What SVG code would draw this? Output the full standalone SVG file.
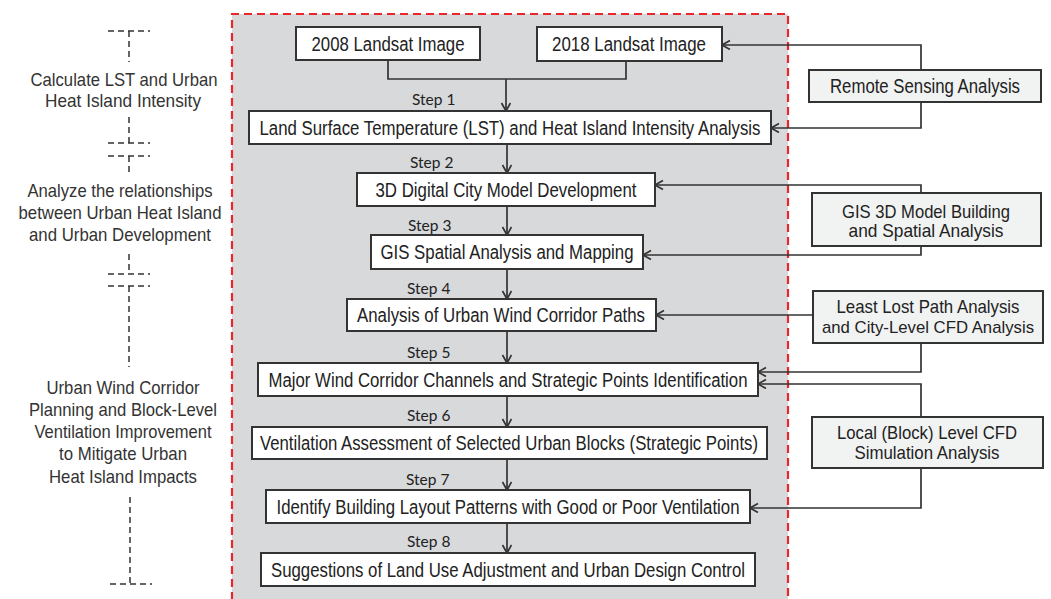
<svg xmlns="http://www.w3.org/2000/svg" width="1051" height="599" viewBox="0 0 1051 599">
<defs>
<style>
.box{fill:#fff;stroke:#333;stroke-width:2}
.rbox{fill:#f1f2f2;stroke:#333;stroke-width:2}
.t{font-family:"Liberation Sans",Arial,sans-serif;font-size:19.5px;fill:#222;text-anchor:middle}
.t2{font-family:"Liberation Sans",Arial,sans-serif;font-size:18.5px;fill:#222;text-anchor:middle}
.lt{font-family:"Liberation Sans",Arial,sans-serif;font-size:18.5px;fill:#333;text-anchor:middle}
.step{font-family:Lato,"Open Sans",sans-serif;font-size:15.5px;fill:#222}
.c{fill:none;stroke:#333;stroke-width:1.7}
.d{fill:none;stroke:#333;stroke-width:1.5;stroke-dasharray:6 4}
</style>
<marker id="ah" markerUnits="userSpaceOnUse" markerWidth="12" markerHeight="12" refX="9" refY="5" orient="auto">
<path d="M1,0.5 L9,5 L1,9.5" fill="none" stroke="#333" stroke-width="1.7"/>
</marker>
</defs>
<rect width="1051" height="599" fill="#fff"/>
<rect x="232" y="14" width="556" height="590" fill="#d8d9db"/>
<path d="M232,600 V14 H788 V600" fill="none" stroke="#e8262b" stroke-width="2.2" stroke-dasharray="8 5"/>

<g id="left-labels">
<path class="d" d="M108,31 H150 M129,31 V62 M129,117 V143 M108,143 H150 M108,156 H150 M129,156 V173 M129,254 V274 M108,274 H150 M108,286 H150 M129,286 V367 M130,497 V584 M110,584 H152"/>
<text class="lt" x="124" y="86" textLength="187" lengthAdjust="spacingAndGlyphs">Calculate LST and Urban</text>
<text class="lt" x="123" y="107" textLength="156" lengthAdjust="spacingAndGlyphs">Heat Island Intensity</text>
<text class="lt" x="120" y="197" textLength="185" lengthAdjust="spacingAndGlyphs">Analyze the relationships</text>
<text class="lt" x="120" y="219" textLength="203" lengthAdjust="spacingAndGlyphs">between Urban Heat Island</text>
<text class="lt" x="120" y="241" textLength="182" lengthAdjust="spacingAndGlyphs">and Urban Development</text>
<text class="lt" x="123" y="394" textLength="153" lengthAdjust="spacingAndGlyphs">Urban Wind Corridor</text>
<text class="lt" x="123" y="416" textLength="188" lengthAdjust="spacingAndGlyphs">Planning and Block-Level</text>
<text class="lt" x="123" y="438" textLength="177" lengthAdjust="spacingAndGlyphs">Ventilation Improvement</text>
<text class="lt" x="123" y="460" textLength="128" lengthAdjust="spacingAndGlyphs">to Mitigate Urban</text>
<text class="lt" x="123" y="483" textLength="148" lengthAdjust="spacingAndGlyphs">Heat Island Impacts</text>
</g>

<g id="connectors">
<path class="c" d="M388,60 V79 H626 V61"/>
<path class="c" d="M506,79 V111" marker-end="url(#ah)"/>
<path class="c" d="M921,70 V45 H722" marker-end="url(#ah)"/>
<path class="c" d="M921,102 V128 H771" marker-end="url(#ah)"/>
<path class="c" d="M507,144 V173" marker-end="url(#ah)"/>
<path class="c" d="M921,193 V185 H655" marker-end="url(#ah)"/>
<path class="c" d="M921,246 V255 H643" marker-end="url(#ah)"/>
<path class="c" d="M507,206 V235" marker-end="url(#ah)"/>
<path class="c" d="M507,269 V299" marker-end="url(#ah)"/>
<path class="c" d="M813,315 H656" marker-end="url(#ah)"/>
<path class="c" d="M921,343 V372 H758" marker-end="url(#ah)"/>
<path class="c" d="M507,331 V363" marker-end="url(#ah)"/>
<path class="c" d="M921,417 V384 H758" marker-end="url(#ah)"/>
<path class="c" d="M507,396 V427" marker-end="url(#ah)"/>
<path class="c" d="M507,459 V490" marker-end="url(#ah)"/>
<path class="c" d="M921,468 V508 H750" marker-end="url(#ah)"/>
<path class="c" d="M507,523 V553" marker-end="url(#ah)"/>
</g>

<g id="steps">
<text class="step" x="412" y="105">Step 1</text>
<text class="step" x="410" y="168">Step 2</text>
<text class="step" x="408" y="231">Step 3</text>
<text class="step" x="407" y="294">Step 4</text>
<text class="step" x="407" y="358">Step 5</text>
<text class="step" x="407" y="421">Step 6</text>
<text class="step" x="406" y="485">Step 7</text>
<text class="step" x="407" y="547">Step 8</text>
</g>

<g id="n2008"><rect class="box" x="296" y="27" width="184" height="33"/><text class="t" x="388" y="51" textLength="153" lengthAdjust="spacingAndGlyphs">2008 Landsat Image</text></g>
<g id="n2018"><rect class="box" x="537" y="27" width="185" height="34"/><text class="t" x="629" y="51" textLength="154" lengthAdjust="spacingAndGlyphs">2018 Landsat Image</text></g>
<g id="nLST"><rect class="box" x="249" y="111" width="522" height="33"/><text class="t" x="510" y="135" textLength="501" lengthAdjust="spacingAndGlyphs">Land Surface Temperature (LST) and Heat Island Intensity Analysis</text></g>
<g id="n3D"><rect class="box" x="357" y="173" width="298" height="33"/><text class="t" x="506" y="197" textLength="261" lengthAdjust="spacingAndGlyphs">3D Digital City Model Development</text></g>
<g id="nGIS"><rect class="box" x="371" y="235" width="272" height="34"/><text class="t" x="507" y="259" textLength="253" lengthAdjust="spacingAndGlyphs">GIS Spatial Analysis and Mapping</text></g>
<g id="nWind"><rect class="box" x="347" y="299" width="309" height="32"/><text class="t" x="501" y="322" textLength="288" lengthAdjust="spacingAndGlyphs">Analysis of Urban Wind Corridor Paths</text></g>
<g id="nMajor"><rect class="box" x="258" y="363" width="500" height="33"/><text class="t" x="508" y="387" textLength="479" lengthAdjust="spacingAndGlyphs">Major Wind Corridor Channels and Strategic Points Identification</text></g>
<g id="nVent"><rect class="box" x="252" y="427" width="515" height="32"/><text class="t" x="509" y="450" textLength="498" lengthAdjust="spacingAndGlyphs">Ventilation Assessment of Selected Urban Blocks (Strategic Points)</text></g>
<g id="nIdentify"><rect class="box" x="266" y="490" width="484" height="33"/><text class="t" x="508" y="514" textLength="463" lengthAdjust="spacingAndGlyphs">Identify Building Layout Patterns with Good or Poor Ventilation</text></g>
<g id="nSuggest"><rect class="box" x="261" y="553" width="494" height="33"/><text class="t" x="508" y="577" textLength="474" lengthAdjust="spacingAndGlyphs">Suggestions of Land Use Adjustment and Urban Design Control</text></g>

<g id="nRemote"><rect class="rbox" x="809" y="70" width="232" height="32"/><text class="t" x="925" y="93" textLength="190" lengthAdjust="spacingAndGlyphs">Remote Sensing Analysis</text></g>
<g id="nGIS3D"><rect class="rbox" x="812" y="193" width="229" height="53"/><text class="t2" x="926" y="218" textLength="168" lengthAdjust="spacingAndGlyphs">GIS 3D Model Building</text><text class="t2" x="926" y="237" textLength="155" lengthAdjust="spacingAndGlyphs">and Spatial  Analysis</text></g>
<g id="nLeast"><rect class="rbox" x="813" y="291" width="230" height="52"/><text class="t2" x="928" y="313" textLength="183" lengthAdjust="spacingAndGlyphs">Least Lost Path Analysis</text><text class="t2" x="928" y="333" style="font-size:17px" textLength="212" lengthAdjust="spacingAndGlyphs">and City-Level CFD Analysis</text></g>
<g id="nLocal"><rect class="rbox" x="812" y="417" width="231" height="51"/><text class="t2" x="927" y="439" textLength="180" lengthAdjust="spacingAndGlyphs">Local (Block) Level CFD</text><text class="t2" x="927" y="459" textLength="145" lengthAdjust="spacingAndGlyphs">Simulation Analysis</text></g>
</svg>
